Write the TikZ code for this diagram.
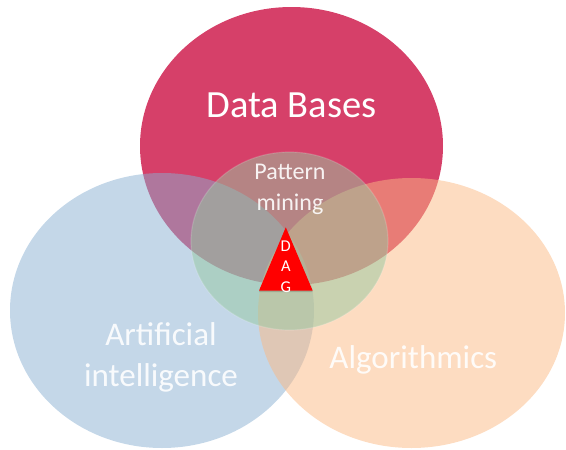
\documentclass[tikz,border=0pt]{standalone}
\usepackage{fontspec}
\setmainfont{Carlito}
\usetikzlibrary{shapes.geometric}

\definecolor{dbred}{RGB}{214,64,105}
\definecolor{aiblue}{RGB}{137,175,210}
\definecolor{algorange}{RGB}{251,185,131}
\definecolor{pmgreen}{RGB}{150,200,160}
\definecolor{dagred}{RGB}{255,0,0}

\tikzset{
  setbox/.style={ellipse, inner sep=0pt, draw=none},
  label text/.style={text=white, anchor=base, align=center, inner sep=0pt},
}

\begin{document}
\begin{tikzpicture}[x=1pt, y=-1pt]
  \useasboundingbox (0,0) rectangle (566,450);

  % the three fields
  \node[setbox, fill=dbred, minimum width=303pt, minimum height=278pt] (db) at (291.5,146) {};
  \node[setbox, fill=aiblue, fill opacity=0.5, minimum width=304pt, minimum height=275pt] (ai) at (162,310.5) {};
  \node[setbox, fill=algorange, fill opacity=0.5, minimum width=307pt, minimum height=270pt] (alg) at (411.5,313) {};

  % their common ground
  \node[setbox, fill=pmgreen, fill opacity=0.5, draw=white, draw opacity=0.15, line width=1.2pt,
        minimum width=197pt, minimum height=178pt] (pm) at (289.5,241) {};

  % field names
  \node[label text, font=\fontsize{38.5}{44}\selectfont] (dbtext) at (291.5,117) {Data Bases};
  \node[label text, font=\fontsize{33}{41}\selectfont, text opacity=0.9] (aitext1) at (161,345.7) {Artificial};
  \node[label text, font=\fontsize{33}{41}\selectfont, text opacity=0.9] (aitext2) at (161,386.7) {intelligence};
  \node[label text, font=\fontsize{33}{38}\selectfont, text opacity=0.9] (algtext) at (413.3,368.3) {Algorithmics};
  \node[label text, font=\fontsize{24}{30}\selectfont, text opacity=0.9] (pmtext1) at (290,179) {Pattern};
  \node[label text, font=\fontsize{24}{30}\selectfont, text opacity=0.9] (pmtext2) at (290,210.7) {mining};

  % the DAG marker
  \coordinate (dagtop) at (285.8,227.3);
  \coordinate (dagleft) at (259,290.7);
  \coordinate (dagright) at (312.7,290.7);
  \fill[black, opacity=0.15] ([yshift=-1.5pt]dagtop) -- ([yshift=-1.5pt]dagleft) -- ([yshift=-1.5pt]dagright) -- cycle;
  \fill[dagred] (dagtop) -- (dagleft) -- (dagright) -- cycle;
  \node[label text, font=\fontsize{16.5}{18}\selectfont] (dagD) at (285.8,251.5) {D};
  \node[label text, font=\fontsize{16.5}{18}\selectfont] (dagA) at (285.8,271.5) {A};
  \node[label text, font=\fontsize{16.5}{18}\selectfont] (dagG) at (285.8,292) {G};
\end{tikzpicture}
\end{document}
